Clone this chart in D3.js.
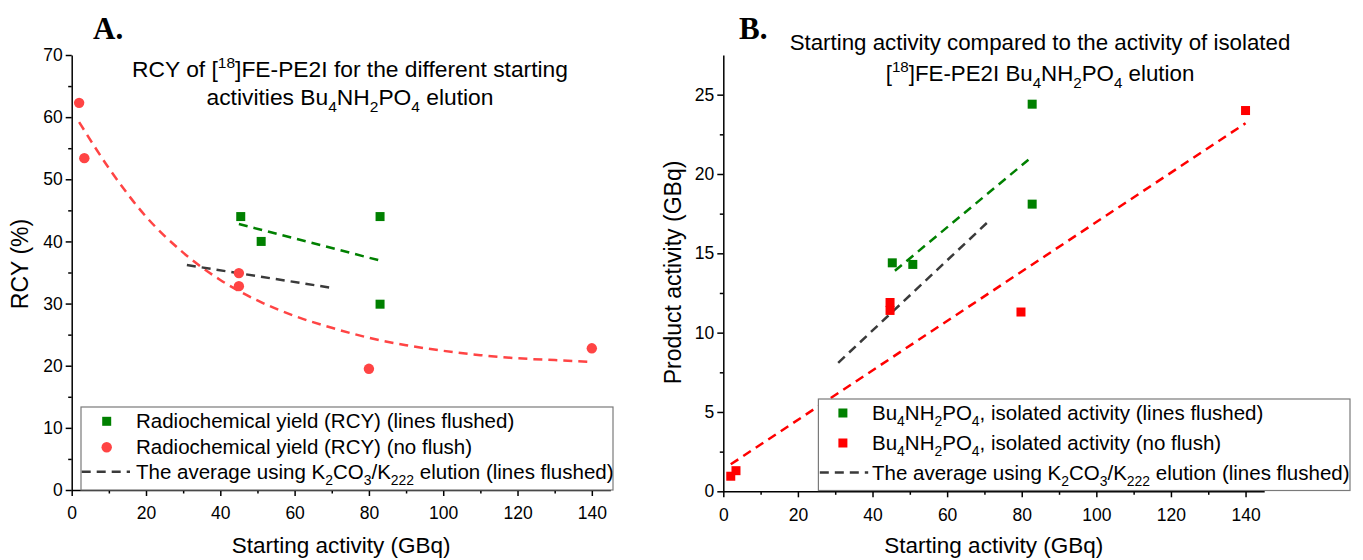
<!DOCTYPE html>
<html>
<head>
<meta charset="utf-8">
<script src="https://cdn.jsdelivr.net/npm/d3@7"></script>
<style>
	body { margin: 0; background: #fff; }
	svg text { font-family: 'Liberation Sans', Arial, sans-serif; fill: #000; }
</style>
</head>
<body>
<div id="chart"></div>
<script>
'use strict';

var xTicks = [0, 20, 40, 60, 80, 100, 120, 140];
var xMinorTicks = [10, 30, 50, 70, 90, 110, 130];
var rcyTicks = [0, 10, 20, 30, 40, 50, 60, 70];
var rcyMinorTicks = [5, 15, 25, 35, 45, 55, 65];
var prodTicks = [0, 5, 10, 15, 20, 25];
var prodMinorTicks = [2.5, 7.5, 12.5, 17.5, 22.5];

// panel A : RCY (%) against starting activity (GBq)
var rcyFlushed = [[45.5, 44.0], [51, 40.0], [83, 44.0], [83, 29.9]];
var rcyNoFlush = [[2, 62.3], [3.4, 53.4], [45, 34.9], [45, 32.8], [80, 19.5], [140, 22.8]];
var rcyFlushedFit = [[45, 42.8], [82.5, 37.0]];
var rcyNoFlushFit = [[2, 59.2], [10, 51.8], [20, 44.0], [30, 38.2], [40, 33.8], [50, 30.5], [60, 28.0],
	[70, 26.1], [80, 24.5], [90, 23.3], [100, 22.4], [110, 21.7], [120, 21.2], [130, 20.9], [140, 20.6]];
var rcyK2co3Avg = [[31, 36.2], [70.3, 32.5]];

// panel B : product activity (GBq) against starting activity (GBq)
var prodFlushed = [[45.3, 14.4], [50.8, 14.3], [82.8, 24.4], [82.8, 18.1]];
var prodNoFlush = [[2, 0.95], [3.4, 1.3], [44.7, 11.9], [44.7, 11.4], [79.8, 11.3], [140, 24.0]];
var prodFlushedFit = [[46, 13.9], [81.8, 20.9]];
var prodNoFlushFit = [[2, 1.7], [140, 23.2]];
var prodK2co3Avg = [[30.8, 8.1], [71.5, 17.1]];

var GREEN = '#008000';
var RED_A = '#ff4444';
var RED_B = '#ff0000';
var GREY = '#3a3a3a';

var svg = d3.select('#chart').append('svg')
	.attr('width', 1363)
	.attr('height', 560)
	.style('background', '#fff');

// writes text with sub / superscript parts into a text element
function richText(sel, parts, size){
	var shift = 0;
	parts.forEach(function(p){
		var target = p[1] === 'sub' ? size * 0.3 : (p[1] === 'sup' ? -size * 0.4 : 0);
		var t = sel.append('tspan').text(p[0]).attr('dy', target - shift);
		if(p[1]){ t.attr('font-size', size * 0.68); }
		shift = target;
	});
	return sel;
}

function drawPanel(p){
	var g = svg.append('g');

	var x = d3.scaleLinear().domain([0, 145]).range([p.left, p.right]);
	var y = d3.scaleLinear().domain([0, p.yMax]).range([p.bottom, p.top]);

	var line = d3.line()
		.x(function(d){ return x(d[0]); })
		.y(function(d){ return y(d[1]); });

	// minor ticks
	g.append('g')
		.attr('transform', 'translate(0,' + p.bottom + ')')
		.call(d3.axisBottom(x).tickValues(xMinorTicks).tickSize(3.5).tickSizeOuter(0).tickFormat(''))
		.call(function(a){ a.select('.domain').remove(); });
	g.append('g')
		.attr('transform', 'translate(' + p.left + ',0)')
		.call(d3.axisLeft(y).tickValues(p.yMinor).tickSize(3.5).tickSizeOuter(0).tickFormat(''))
		.call(function(a){ a.select('.domain').remove(); });

	var xAxis = g.append('g')
		.attr('transform', 'translate(0,' + p.bottom + ')')
		.call(d3.axisBottom(x).tickValues(xTicks).tickSize(6).tickSizeOuter(0).tickPadding(11));

	var yAxis = g.append('g')
		.attr('transform', 'translate(' + p.left + ',0)')
		.call(d3.axisLeft(y).tickValues(p.yTicks).tickSize(6).tickSizeOuter(0).tickPadding(3));

	g.selectAll('.tick line, .domain').attr('stroke', '#000').attr('stroke-width', 1.5);
	xAxis.attr('font-family', null).selectAll('text').attr('font-size', 17.5);
	yAxis.attr('font-family', null).selectAll('text').attr('font-size', 17.5);

	// fitted / average lines
	p.lines.forEach(function(l){
		g.append('path')
			.datum(l.data)
			.attr('fill', 'none')
			.attr('stroke', l.color)
			.attr('stroke-width', 2.5)
			.attr('stroke-dasharray', '9,6')
			.attr('d', l.smooth ? line.curve(d3.curveMonotoneX) : line.curve(d3.curveLinear));
	});

	// points
	p.series.forEach(function(s){
		if(s.shape === 'circle'){
			g.selectAll(null).data(s.data).enter().append('circle')
				.attr('cx', function(d){ return x(d[0]); })
				.attr('cy', function(d){ return y(d[1]); })
				.attr('r', 5.2)
				.attr('fill', s.color);
		}else{
			g.selectAll(null).data(s.data).enter().append('rect')
				.attr('x', function(d){ return x(d[0]) - 4.5; })
				.attr('y', function(d){ return y(d[1]) - 4.5; })
				.attr('width', 9)
				.attr('height', 9)
				.attr('fill', s.color);
		}
	});

	// panel letter
	g.append('text')
		.attr('x', p.letterX)
		.attr('y', 39)
		.style('font-family', "'Liberation Serif', 'Times New Roman', serif")
		.attr('font-weight', 'bold')
		.attr('font-size', 31)
		.text(p.letter);

	// title
	p.title.forEach(function(parts, i){
		richText(g.append('text')
			.attr('x', p.titleX)
			.attr('y', p.titleY[i])
			.attr('text-anchor', 'middle')
			.attr('font-size', p.titleSize), parts, p.titleSize);
	});

	// axis titles
	g.append('text')
		.attr('x', (p.left + p.right) / 2)
		.attr('y', 553)
		.attr('text-anchor', 'middle')
		.attr('font-size', 22.5)
		.text('Starting activity (GBq)');

	g.append('text')
		.attr('transform', 'translate(' + p.yTitleX + ',' + p.yTitleY + ') rotate(-90)')
		.attr('text-anchor', 'middle')
		.attr('font-size', 23)
		.text(p.yTitle);

	// legend
	var lg = p.legend;
	g.append('rect')
		.attr('x', lg.x)
		.attr('y', lg.y)
		.attr('width', lg.w)
		.attr('height', lg.h)
		.attr('fill', '#fff')
		.attr('stroke', '#7a7a7a')
		.attr('stroke-width', 1.2);

	lg.rows.forEach(function(r, i){
		var cy = lg.rowY[i];
		if(r.shape === 'circle'){
			g.append('circle').attr('cx', lg.markerX).attr('cy', cy).attr('r', 5.2).attr('fill', r.color);
		}else if(r.shape === 'square'){
			g.append('rect').attr('x', lg.markerX - 4.5).attr('y', cy - 4.5)
				.attr('width', 9).attr('height', 9).attr('fill', r.color);
		}else{
			g.append('line').attr('x1', lg.dash[0]).attr('x2', lg.dash[1]).attr('y1', cy).attr('y2', cy)
				.attr('stroke', r.color).attr('stroke-width', 2.5).attr('stroke-dasharray', '9,6');
		}
		richText(g.append('text')
			.attr('x', lg.textX)
			.attr('y', cy + 7)
			.attr('font-size', 20.5), r.parts, 20.5);
	});
}

var avgParts = [['The average using K'], ['2', 'sub'], ['CO'], ['3', 'sub'], ['/K'], ['222', 'sub'], [' elution (lines flushed)']];

drawPanel({
	left: 71.7, right: 610.4, top: 55, bottom: 490,
	yMax: 70, yTicks: rcyTicks, yMinor: rcyMinorTicks,
	letter: 'A.', letterX: 93,
	titleX: 350, titleY: [77, 105], titleSize: 22.8,
	title: [
		[['RCY of ['], ['18', 'sup'], [']FE-PE2I for the different starting']],
		[['activities Bu'], ['4', 'sub'], ['NH'], ['2', 'sub'], ['PO'], ['4', 'sub'], [' elution']]
	],
	yTitle: 'RCY (%)', yTitleX: 28, yTitleY: 264,
	lines: [
		{data: rcyNoFlushFit, color: RED_A, smooth: true},
		{data: rcyK2co3Avg, color: GREY},
		{data: rcyFlushedFit, color: GREEN}
	],
	series: [
		{data: rcyFlushed, color: GREEN, shape: 'square'},
		{data: rcyNoFlush, color: RED_A, shape: 'circle'}
	],
	legend: {
		x: 81, y: 407, w: 532, h: 83,
		markerX: 106.7, textX: 136, rowY: [421.3, 447.3, 471.7], dash: [81.7, 130],
		rows: [
			{shape: 'square', color: GREEN, parts: [['Radiochemical yield (RCY) (lines flushed)']]},
			{shape: 'circle', color: RED_A, parts: [['Radiochemical yield (RCY) (no flush)']]},
			{shape: 'dash', color: GREY, parts: avgParts}
		]
	}
});

drawPanel({
	left: 723.3, right: 1264.2, top: 55, bottom: 491.3,
	yMax: 27.5, yTicks: prodTicks, yMinor: prodMinorTicks,
	letter: 'B.', letterX: 739,
	titleX: 1040, titleY: [50, 81], titleSize: 22.3,
	title: [
		[['Starting activity compared to the activity of isolated']],
		[['['], ['18', 'sup'], [']FE-PE2I Bu'], ['4', 'sub'], ['NH'], ['2', 'sub'], ['PO'], ['4', 'sub'], [' elution']]
	],
	yTitle: 'Product activity (GBq)', yTitleX: 681, yTitleY: 272.5,
	lines: [
		{data: prodNoFlushFit, color: RED_B},
		{data: prodK2co3Avg, color: GREY},
		{data: prodFlushedFit, color: GREEN}
	],
	series: [
		{data: prodFlushed, color: GREEN, shape: 'square'},
		{data: prodNoFlush, color: RED_B, shape: 'square'}
	],
	legend: {
		x: 818.4, y: 399, w: 531.6, h: 91.5,
		markerX: 842.9, textX: 872, rowY: [413, 443, 472.5], dash: [819.8, 868.2],
		rows: [
			{shape: 'square', color: GREEN, parts: [['Bu'], ['4', 'sub'], ['NH'], ['2', 'sub'], ['PO'], ['4', 'sub'], [', isolated activity (lines flushed)']]},
			{shape: 'square', color: RED_B, parts: [['Bu'], ['4', 'sub'], ['NH'], ['2', 'sub'], ['PO'], ['4', 'sub'], [', isolated activity (no flush)']]},
			{shape: 'dash', color: GREY, parts: avgParts}
		]
	}
});
</script>
</body>
</html>
